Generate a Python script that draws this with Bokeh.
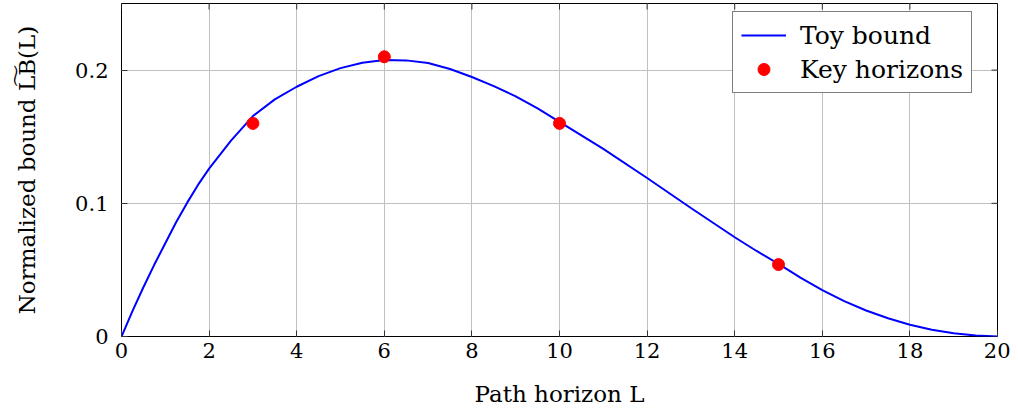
from bokeh.plotting import figure
from bokeh.models import Range1d, FixedTicker, Legend, LegendItem
from bokeh.embed import file_html
from bokeh.resources import INLINE

# Data
horizon_L = [0, 0.25, 0.5, 0.75, 1, 1.25, 1.5, 1.75, 2, 2.5, 3, 3.5, 4, 4.5, 5, 5.5,
             6, 6.5, 7, 7.5, 8, 8.5, 9, 9.5, 10, 10.5, 11, 12, 13, 14, 14.5, 15, 15.5,
             16, 16.5, 17, 17.5, 18, 18.5, 19, 19.5, 20]
toy_bound = [0, 0.019, 0.037, 0.054, 0.070, 0.086, 0.1005, 0.114, 0.126, 0.147, 0.1655,
             0.178, 0.1875, 0.1955, 0.2015, 0.2055, 0.2075, 0.2073, 0.2053, 0.2008,
             0.1948, 0.188, 0.1803, 0.1712, 0.1612, 0.151, 0.1408, 0.119, 0.0965,
             0.0745, 0.0642, 0.0545, 0.0442, 0.0348, 0.0265, 0.0195, 0.0137, 0.0088,
             0.005, 0.0025, 0.0008, 0]
key_L = [3, 6, 10, 15]
key_bound = [0.16, 0.21, 0.16, 0.054]
x_ticks = [0, 2, 4, 6, 8, 10, 12, 14, 16, 18, 20]
y_ticks = [0, 0.1, 0.2]

FONT = "DejaVu Serif"
X_MIN, X_MAX, Y_MIN, Y_MAX = 0, 20, 0, 0.25
W, H = 1010, 413
BL, BR, BT, BB = 121, 13, 3, 77
TICK = 6  # px

p = figure(width=W, height=H, output_backend="svg", toolbar_location=None,
           x_range=Range1d(X_MIN, X_MAX), y_range=Range1d(Y_MIN, Y_MAX),
           min_border_left=BL, min_border_right=BR, min_border_top=BT, min_border_bottom=BB)
p.outline_line_color = "black"
p.outline_line_width = 1
p.background_fill_color = "white"

p.xaxis.ticker = FixedTicker(ticks=x_ticks)
p.yaxis.ticker = FixedTicker(ticks=y_ticks)
p.yaxis.major_label_overrides = {0: "0"}
for ax in (p.xaxis[0], p.yaxis[0]):
    ax.axis_line_color = None
    ax.major_tick_in = TICK
    ax.major_tick_out = 0
    ax.major_tick_line_color = "#333333"
    ax.minor_tick_line_color = None
    ax.major_label_text_font = FONT
    ax.major_label_text_font_size = "21px"
    ax.major_label_text_color = "black"
    ax.axis_label_text_font = FONT
    ax.axis_label_text_font_size = "23px"
    ax.axis_label_text_font_style = "normal"
    ax.axis_label_text_color = "black"
p.xaxis.axis_label = "Path horizon L"
p.yaxis.axis_label = "Normalized bound L\u0360B(L)"
p.xaxis.major_label_standoff = 6
p.xaxis.axis_label_standoff = 20
p.yaxis.major_label_standoff = 13
p.yaxis.axis_label_standoff = 32

p.xgrid.grid_line_color = "#c0c0c0"
p.ygrid.grid_line_color = "#c0c0c0"
p.xgrid.ticker = FixedTicker(ticks=x_ticks)
p.ygrid.ticker = FixedTicker(ticks=y_ticks)

# inward tick marks on the top and right frame edges (mirroring the bottom/left ticks)
frame_w = W - BL - BR
frame_h = H - BT - BB
dy = TICK / frame_h * (Y_MAX - Y_MIN)
dx = TICK / frame_w * (X_MAX - X_MIN)
p.segment(x0=x_ticks, x1=x_ticks, y0=[Y_MAX] * len(x_ticks), y1=[Y_MAX - dy] * len(x_ticks),
          line_color="#333333", line_width=1)
p.segment(x0=[X_MAX] * len(y_ticks), x1=[X_MAX - dx] * len(y_ticks), y0=y_ticks, y1=y_ticks,
          line_color="#333333", line_width=1)

line_r = p.line(horizon_L, toy_bound, line_color="#0000ff", line_width=2)
dot_r = p.scatter(key_L, key_bound, size=12, fill_color="#ff0000", line_color="#ff0000")

legend = Legend(items=[LegendItem(label="Toy bound", renderers=[line_r]),
                       LegendItem(label="Key horizons", renderers=[dot_r])],
                location=(611, frame_h - 10 - 80), label_text_font=FONT,
                label_text_font_size="25px", label_text_color="black",
                glyph_width=45, glyph_height=30, label_height=30, spacing=4, padding=8,
                label_standoff=14, border_line_color="black", border_line_width=1,
                background_fill_alpha=1, margin=0)
p.add_layout(legend, "center")

open("out.html", "w").write(file_html(p, INLINE))
